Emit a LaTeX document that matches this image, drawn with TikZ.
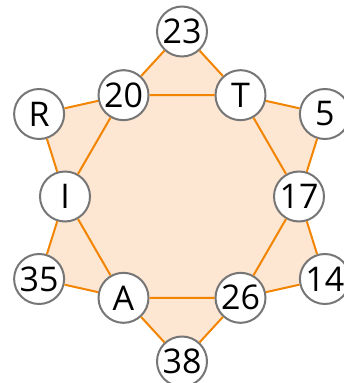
\documentclass[tikz,border=0pt]{standalone}
\usepackage{fontspec}
\setmainfont{Open Sans}
\usetikzlibrary{backgrounds, calc}

\definecolor{starline}{RGB}{242,132,0}
\definecolor{starfill}{RGB}{253,230,210}
\definecolor{ringgray}{RGB}{118,118,118}

\begin{document}
\begin{tikzpicture}[
			x=1pt, y=1pt,
			cell/.style={circle, draw=ringgray, line width=2pt, fill=white, minimum size=50pt, inner sep=0pt, font=\fontsize{34}{34}\selectfont},
			link/.style={draw=starline, line width=2pt}
			]
			\useasboundingbox (0,0) rectangle (344,383);
			\coordinate (c) at (182,186.5);
			
			% inner hexagon
			\node[cell] (n17) at ($(c)+(0:117)$) {17};
			\node[cell] (nT) at ($(c)+(60:117)$) {T};
			\node[cell] (n20) at ($(c)+(120:117)$) {20};
			\node[cell] (nI) at ($(c)+(180:117)$) {I};
			\node[cell] (nA) at ($(c)+(240:117)$) {A};
			\node[cell] (n26) at ($(c)+(300:117)$) {26};
			
			% outer tips
			\node[cell] (n5) at ($(c)+(30:165)$) {5};
			\node[cell] (n23) at ($(c)+(90:165)$) {23};
			\node[cell] (nR) at ($(c)+(150:165)$) {R};
			\node[cell] (n35) at ($(c)+(210:165)$) {35};
			\node[cell] (n38) at ($(c)+(270:165)$) {38};
			\node[cell] (n14) at ($(c)+(330:165)$) {14};
			
			\begin{pgfonlayer}{background}
				\fill[starfill] (n17.center) -- (n5.center) -- (nT.center) -- (n23.center) -- (n20.center) -- (nR.center) -- (nI.center) -- (n35.center) -- (nA.center) -- (n38.center) -- (n26.center) -- (n14.center) -- cycle;
			\end{pgfonlayer}
			
			\draw[link] (n17) -- (nT) -- (n20) -- (nI) -- (nA) -- (n26) -- (n17);
			\draw[link] (n17) -- (n5) -- (nT);
			\draw[link] (nT) -- (n23) -- (n20);
			\draw[link] (n20) -- (nR) -- (nI);
			\draw[link] (nI) -- (n35) -- (nA);
			\draw[link] (nA) -- (n38) -- (n26);
			\draw[link] (n26) -- (n14) -- (n17);
		\end{tikzpicture}
\end{document}
